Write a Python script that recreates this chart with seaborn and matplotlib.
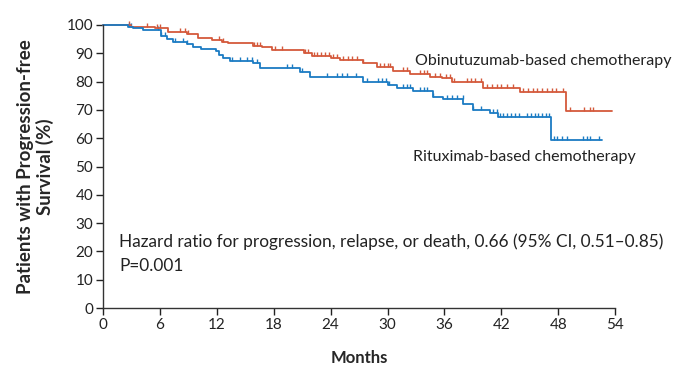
import matplotlib
matplotlib.use("Agg")
import matplotlib.pyplot as plt
from matplotlib.path import Path
import numpy as np
import pandas as pd
import seaborn as sns

# Kaplan-Meier steps: (month of step, % after step)
obin_times = [0, 3.0, 5.5, 6.9, 8.9, 10.0, 11.5, 12.5, 13.2, 15.8, 16.8, 17.8,
              21.2, 22.0, 24.0, 25.0, 27.4, 28.9, 30.6, 32.4, 34.5, 35.7, 36.8,
              40.1, 44.0, 48.8]
obin_surv = [100, 99.4, 99.0, 97.6, 96.9, 95.5, 94.6, 94.1, 93.6, 92.7, 92.1, 91.0,
             90.0, 89.1, 88.3, 87.6, 86.5, 85.0, 83.8, 82.6, 81.8, 81.2, 80.0,
             77.9, 76.5, 69.5]
obin_end = 53.6

ritu_times = [0, 2.6, 3.2, 4.2, 6.1, 6.8, 7.4, 8.9, 9.5, 10.3, 11.9, 12.2, 12.7,
              13.4, 15.8, 16.6, 20.8, 21.8, 27.4, 30.0, 31.0, 32.7, 34.8, 35.8,
              38.0, 39.0, 40.8, 41.6, 47.2]
ritu_surv = [100, 99.3, 98.9, 98.1, 96.0, 95.1, 94.1, 93.4, 92.2, 91.6, 90.7, 89.4, 88.2,
             87.3, 86.5, 84.8, 83.5, 81.7, 80.0, 78.7, 77.9, 76.8, 74.6, 73.9,
             72.0, 69.9, 68.8, 67.6, 59.2]
ritu_end = 52.6

# censoring marks (months)
obin_censor = [2.8, 4.7, 5.7, 6.0, 8.1, 8.6, 9.0, 12.2, 12.7, 15.9, 16.2, 16.6, 18.1,
               18.9, 21.3, 21.6, 22.2, 22.6, 23.0, 23.4, 23.8, 24.3, 24.7, 25.3, 25.8,
               26.3, 26.8, 27.4, 29.2, 29.6, 30.0, 30.3, 31.6, 32.0, 33.4, 33.8, 34.2,
               35.0, 35.5, 36.2, 36.6, 37.0, 38.4, 38.8, 39.2, 39.8, 40.5, 41.0, 41.5,
               42.0, 42.6, 43.2, 44.3, 44.8, 45.3, 45.8, 46.3, 46.8, 47.3, 47.8, 48.5,
               49.2, 50.7, 51.3, 51.6]
ritu_censor = [2.7, 3.0, 5.8, 6.1, 6.5, 7.6, 8.4, 8.9, 13.6, 14.5, 15.2, 15.7, 16.2,
               19.4, 19.9, 21.0, 23.6, 24.7, 25.2, 25.7, 26.7, 27.8, 29.0, 29.4, 29.8,
               30.2, 31.6, 32.0, 32.4, 33.4, 33.8, 34.2, 34.8, 36.3, 36.8, 37.3, 37.9,
               39.0, 39.8, 41.1, 41.5, 41.9, 42.2, 42.6, 43.0, 43.4, 43.8, 44.7, 45.1,
               45.5, 45.9, 46.3, 46.7, 47.0, 47.5, 47.9, 48.4, 48.9, 50.6, 51.0, 51.3,
               52.3]

arm_labels = ["Obinutuzumab-based chemotherapy", "Rituximab-based chemotherapy"]
x_ticks = list(range(0, 55, 6))
y_ticks = list(range(0, 101, 10))

RED = "#d4593b"
BLUE = "#1b7bc3"


def step_frame(times, surv, end, label):
    t = list(times) + [end]
    s = list(surv) + [surv[-1]]
    return pd.DataFrame({"month": t, "surv": s, "arm": label})


def censor_frame(times, surv, censor, label):
    idx = np.searchsorted(times, censor, side="right") - 1
    return pd.DataFrame({"month": censor, "surv": np.array(surv)[idx], "arm": label})


sns.set_theme(style="ticks")
plt.rcParams["font.family"] = ["Lato", "DejaVu Sans"]

fig = plt.figure(figsize=(7.0, 3.73), dpi=100)
ax = fig.add_axes([0.147, 0.174, 0.732, 0.759])

curves = pd.concat([
    step_frame(obin_times, obin_surv, obin_end, arm_labels[0]),
    step_frame(ritu_times, ritu_surv, ritu_end, arm_labels[1]),
], ignore_index=True)

sns.lineplot(data=curves, x="month", y="surv", hue="arm",
             palette=[RED, BLUE], estimator=None, sort=False,
             drawstyle="steps-post", linewidth=1.3, legend=False, ax=ax,
             clip_on=False)

tick_marker = Path([(0, 0), (0, 1)])
for times, surv, cens, lab, col in [
    (obin_times, obin_surv, obin_censor, arm_labels[0], RED),
    (ritu_times, ritu_surv, ritu_censor, arm_labels[1], BLUE),
]:
    cdf = censor_frame(times, surv, cens, lab)
    sns.scatterplot(data=cdf, x="month", y="surv", marker=tick_marker,
                    s=30, color=col, edgecolor=col, linewidth=1.0,
                    legend=False, ax=ax, clip_on=False)

ax.set_xlim(0, 54)
ax.set_ylim(0, 100)
ax.set_xticks(x_ticks)
ax.set_yticks(y_ticks)
ax.tick_params(axis="both", direction="out", length=5, width=1.0,
               colors="#222222", labelsize=11, pad=2)
for side in ["top", "right"]:
    ax.spines[side].set_visible(False)
for side in ["left", "bottom"]:
    ax.spines[side].set_color("#333333")
    ax.spines[side].set_linewidth(1.0)

ax.set_xlabel("Months", fontsize=12, fontweight="bold", labelpad=13)
ax.set_ylabel("Patients with Progression-free\nSurvival (%)", fontsize=13.5,
              fontweight="bold", labelpad=9, linespacing=1.15)

ax.text(32.9, 87.2, arm_labels[0], fontsize=11.5, color="#222222", va="center")
ax.text(32.7, 53.5, arm_labels[1], fontsize=11.5, color="#222222", va="center")
ax.text(1.7, 23.4, "Hazard ratio for progression, relapse, or death, 0.66 (95% CI, 0.51\u20130.85)",
        fontsize=12.4, color="#222222", va="center")
ax.text(1.7, 14.9, "P=0.001", fontsize=12.4, color="#222222", va="center")

fig.savefig("out.png", dpi=100)
